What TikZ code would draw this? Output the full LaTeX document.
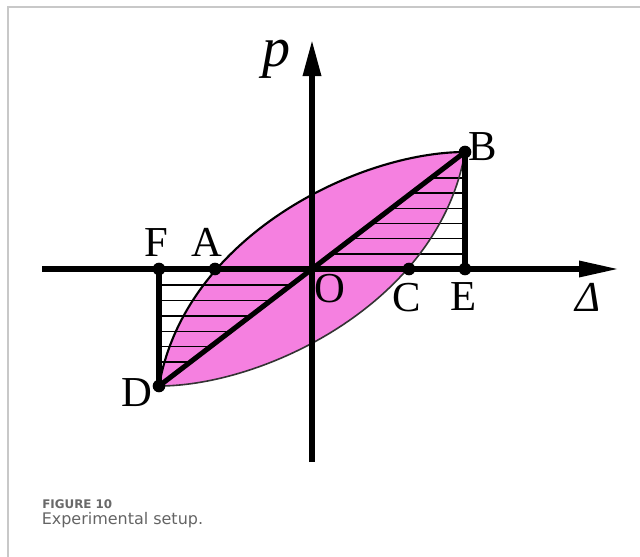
\documentclass[tikz,border=0pt]{standalone}
\usepackage{fontspec}
\usepackage{graphicx}
\setmainfont{Liberation Serif}
\newfontfamily\capfont{DejaVu Sans}
\usetikzlibrary{arrows.meta}
\definecolor{lenspink}{RGB}{245,128,224}
\definecolor{framegray}{RGB}{200,200,200}
\definecolor{capgray}{RGB}{105,105,105}
\definecolor{capgray2}{RGB}{100,100,100}
\begin{document}
\begin{tikzpicture}[x=0.75pt,y=-0.75pt,
  axisline/.style={line width=4pt},
  vtip/.style={-{Triangle[length=27pt,width=13pt]}},
  htip/.style={-{Triangle[length=30pt,width=11.5pt]}},
  boldline/.style={line width=3.8pt},
  hatchline/.style={line width=1.05pt},
  uppercurve/.style={line width=1.6pt},
  lowercurve/.style={line width=1.2pt,black!80},
  dotmark/.style={circle,fill=black,inner sep=0pt,minimum size=9.5pt},
  lbl/.style={font=\fontsize{32}{32}\selectfont,inner sep=0pt,anchor=base},
  framel/.style={framegray,line width=1pt}]
\useasboundingbox (0,0) rectangle (640,557);
% frame
\coordinate (fr1) at (8,557);
\coordinate (fr2) at (8,7);
\coordinate (fr3) at (640,7);
\draw[framel] (fr1) -- (fr2) -- (fr3);
% key points
\coordinate (O) at (312,269);
\coordinate (B) at (465,152);
\coordinate (D) at (159,386);
\coordinate (E) at (465,269);
\coordinate (F) at (159,269);
\coordinate (A) at (215,269);
\coordinate (C) at (409,269);
\coordinate (xL) at (42,269);
\coordinate (xR) at (619,269);
\coordinate (yB) at (312,462);
\coordinate (yT) at (312,40);
% lens fill
\fill[lenspink] (D) .. controls (185,235) and (360,152) .. (B)
  .. controls (439,303) and (264,386) .. (D) -- cycle;
% hatching upper triangle O-B-E
\begin{scope}
  \clip (O) -- (B) -- (E) -- cycle;
  \foreach \yy in {177.8,193,208.2,223.4,238.6,253.8}
    \draw[hatchline] (300,\yy) -- (470,\yy);
\end{scope}
% hatching lower triangle F-D-O
\begin{scope}
  \clip (F) -- (D) -- (O) -- cycle;
  \foreach \yy in {285,300.4,315.8,331.2,346.6,362}
    \draw[hatchline] (150,\yy) -- (320,\yy);
\end{scope}
% curves
\draw[uppercurve] (D) .. controls (185,235) and (360,152) .. (B);
\draw[lowercurve] (B) .. controls (439,303) and (264,386) .. (D);
% axes
\draw[axisline,htip] (xL) -- (xR);
\draw[axisline,vtip] (yB) -- (yT);
% lines
\draw[boldline] (D) -- (B);
\draw[boldline] (B) -- (E);
\draw[boldline] (F) -- (D);
% dots
\foreach \pt in {A,B,C,D,E,F}
  \node[dotmark] (dot\pt) at (\pt) {};
% labels
\node[lbl] (lB) at (482.5,160) {B};
\node[lbl] (lF) at (156,256.5) {F};
\node[lbl] (lA) at (207,256.5) {A};
\node[lbl] (lO) at (330,302) {O};
\node[lbl] (lC) at (407,311) {C};
\node[lbl] (lE) at (464,310) {E};
\node[lbl] (lD) at (137,406.5) {D};
\node[lbl] (lDelta) at (588,311) {\itshape Δ};
\node[font=\fontsize{42}{42}\selectfont\itshape,inner sep=0pt,anchor=base] (lp) at (276,66) {p};
% caption
\node[text=capgray,inner sep=0pt,anchor=base west] (cap1) at (42,508)
  {\resizebox{52.5pt}{!}{\capfont\bfseries FIGURE 10}};
\node[text=capgray2,inner sep=0pt,anchor=base west] (cap2) at (41.5,524.5)
  {\resizebox{121pt}{!}{\capfont Experimental setup.}};
\end{tikzpicture}
\end{document}
